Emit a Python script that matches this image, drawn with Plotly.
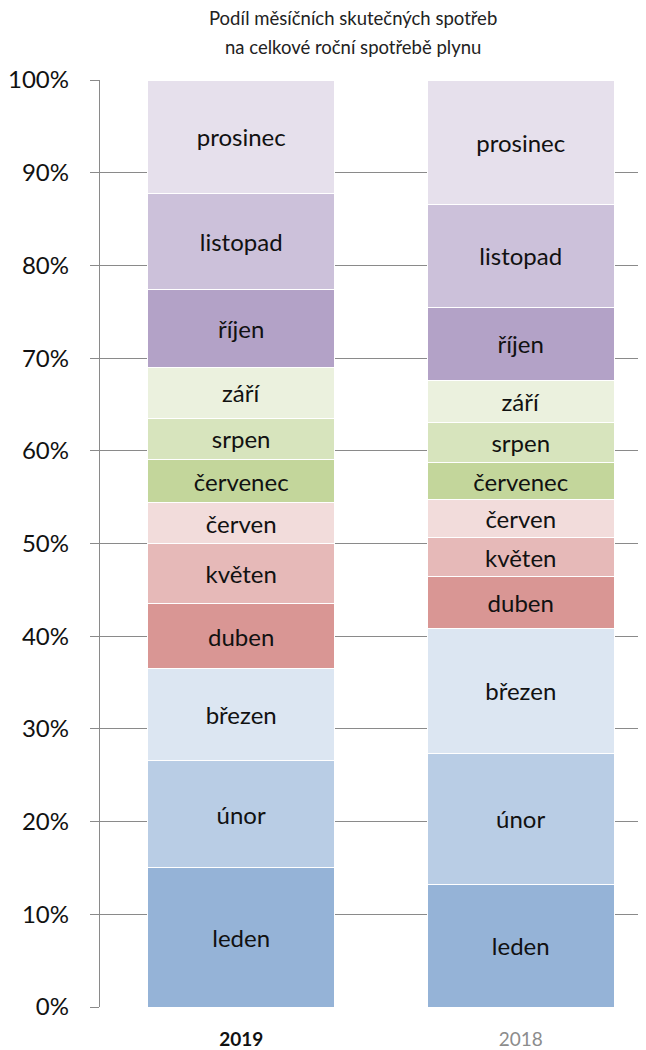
import plotly.graph_objects as go

YEARS = ["2019", "2018"]
MONTHS = ["leden", "únor", "březen", "duben", "květen", "červen",
          "červenec", "srpen", "září", "říjen", "listopad", "prosinec"]
SHARE_2019 = [15.0, 11.6, 9.9, 7.0, 6.5, 4.4, 4.65, 4.45, 5.5, 8.4, 10.4, 12.2]
SHARE_2018 = [13.25, 14.15, 13.4, 5.6, 4.2, 4.1, 4.0, 4.3, 4.6, 7.9, 11.1, 13.4]
COLORS = ["#95B3D7", "#B9CDE5", "#DCE6F2", "#D99694", "#E6B9B8", "#F2DCDB",
          "#C3D69B", "#D7E4BD", "#EBF1DE", "#B3A2C7", "#CCC1DA", "#E6E0EC"]
TITLE_LINES = ["Podíl měsíčních skutečných spotřeb",
               "na celkové roční spotřebě plynu"]

FONT = "Lato, 'Open Sans', sans-serif"
AXIS_GRAY = "#8a8a8a"

fig = go.Figure()
for i, m in enumerate(MONTHS):
    vals = [SHARE_2019[i], SHARE_2018[i]]
    fig.add_trace(go.Bar(
        x=YEARS, y=vals, name=m,
        text=[m, m], textposition="inside", insidetextanchor="middle",
        textfont=dict(size=24, color="#111111", family=FONT),
        marker=dict(color=COLORS[i], line=dict(color="white", width=1)),
        width=0.67, hoverinfo="skip",
    ))

# page has 8px body margin, so figure is 8px smaller than the window
fig.update_layout(
    barmode="stack",
    showlegend=False,
    width=638, height=1042,
    plot_bgcolor="white", paper_bgcolor="white",
    font=dict(family=FONT, color="#111111"),
    margin=dict(l=88, r=0, t=72, b=42),
    uniformtext=dict(minsize=24, mode="show"),
)
for line, ypos in zip(TITLE_LINES, [1.0668, 1.0356]):
    fig.add_annotation(
        text=line, xref="paper", yref="paper", x=0.4627, y=ypos,
        xanchor="center", yanchor="middle", showarrow=False,
        font=dict(size=18.5, color="#222222", family=FONT),
    )

fig.update_xaxes(
    type="category", range=[-0.505, 1.448],
    tickmode="array", tickvals=YEARS,
    ticktext=["<b>2019</b>", '<span style="color:#8c8c8c">2018</span>'],
    tickfont=dict(size=19, color="#111111", family=FONT),
    showline=False, ticks="", showgrid=False, ticklabelstandoff=19,
)
fig.update_yaxes(
    range=[0, 100], dtick=10, ticksuffix="%",
    tickfont=dict(size=24, color="#111111", family=FONT),
    showgrid=True, gridcolor=AXIS_GRAY, gridwidth=1.4,
    showline=True, linecolor=AXIS_GRAY, linewidth=1.4,
    ticks="outside", ticklen=9, tickcolor=AXIS_GRAY, tickwidth=1.4,
    ticklabelstandoff=16, zeroline=False,
)

fig.write_html("out.html")
